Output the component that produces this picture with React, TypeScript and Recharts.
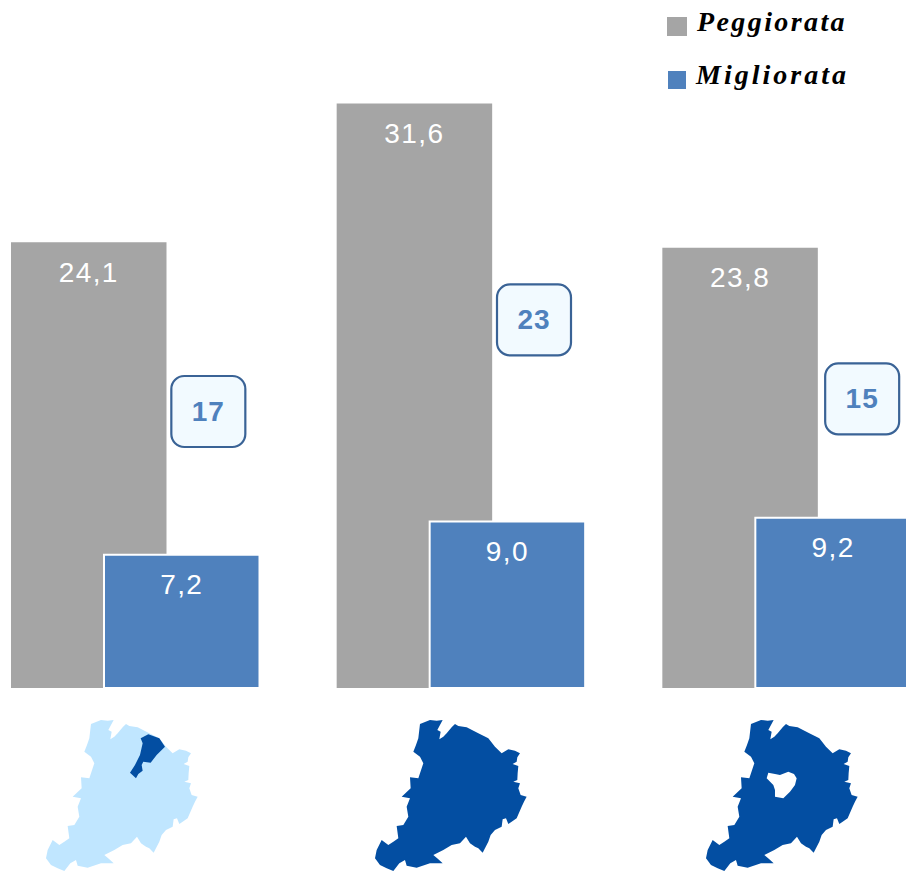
import React from "react";
import { ComposedChart, Bar, Line, XAxis, YAxis, LabelList, Legend } from "recharts";

const categories = ["A", "B", "C"];
const peggiorata = [24.1, 31.6, 23.8];
const migliorata = [7.2, 9.0, 9.2];
const diffLabels = [17, 23, 15];
const diffHeights = [14.95, 19.9, 15.63];

const GRAY = "#a5a5a5";
const BLUE = "#4f81bd";
const NUM_FONT = "'Liberation Sans', sans-serif";
const BOX_DX = [73.5, 73.5, 76];

const data = categories.map((c, i) => ({
  c,
  peggiorata: peggiorata[i],
  migliorata: migliorata[i],
  diffY: diffHeights[i],
  diff: diffLabels[i],
}));

const OUTLINE =
  "M240 72L255 66L270 60L290 62L308 60L300 75L292 90L302 95L298 118L310 110L320 100L335 82L345 72L355 78L380 82L415 100L445 115L465 140L485 160L505 148L525 152L540 160L532 172L530 185L518 192L535 198L533 220L532 240L520 245L540 250L535 265L542 285L560 290L552 305L545 320L530 355L515 365L505 372L498 355L488 358L485 380L465 390L452 405L445 425L428 458L415 445L405 440L390 430L378 410L360 430L335 435L310 450L280 465L295 478L308 490L270 490L230 503L200 497L195 480L178 490L160 513L140 505L120 495L105 475L110 450L125 420L145 435L160 425L175 415L170 378L190 375L205 350L200 320L210 295L185 290L212 265L210 232L235 235L250 190L240 170L220 155L228 135L235 115Z";
const PATCH =
  "M445 103L478 115L495 140L470 165L452 188L430 185L425 195L428 212L415 222L408 235L390 218L405 195L420 165L428 130L422 115Z";
const HOLE =
  "M265 218L285 222L300 225L325 215L342 222L350 235L345 255L330 275L310 295L285 290L285 270L280 255L260 235Z";

const fmt = (v: number) => v.toFixed(1).replace(".", ",");

const DiffBox = (props: any) => {
  const { cx, cy, payload, index } = props;
  if (cx == null || cy == null) return null;
  const x = cx + BOX_DX[index];
  return (
    <g key={index}>
      <rect x={x - 37} y={cy - 35.5} width={74} height={71} rx={13} ry={13} fill="#f2faff" stroke="#3a6396" strokeWidth={2.2} />
      <text x={x} y={cy + 9.5} textAnchor="middle" fontFamily={NUM_FONT} fontSize={28} fontWeight={700} letterSpacing={1} fill={BLUE}>
        {payload.diff}
      </text>
    </g>
  );
};

const LEGEND_FONT = "italic 700 28px 'Liberation Serif', serif";

const LegendContent = () => (
  <div style={{ position: "relative", width: 240, height: 100 }}>
    <div style={{ position: "absolute", left: 0, top: 17, width: 20, height: 19, background: GRAY }} />
    <div style={{ position: "absolute", left: 30, top: 6, font: LEGEND_FONT, letterSpacing: 2.4, color: "#000" }}>Peggiorata</div>
    <div style={{ position: "absolute", left: 1, top: 71, width: 18, height: 18, background: BLUE }} />
    <div style={{ position: "absolute", left: 29, top: 59, font: LEGEND_FONT, letterSpacing: 3, color: "#000" }}>Migliorata</div>
  </div>
);

export default function App() {
  return (
    <div style={{ position: "absolute", left: 0, top: 0, width: 906, height: 871, overflow: "hidden", background: "#fff" }}>
      <div style={{ position: "absolute", left: -28, top: 0 }}>
        <ComposedChart
          width={977}
          height={871}
          data={data}
          margin={{ top: 0, right: 0, bottom: 83, left: 0 }}
          barSize={155.5}
          barGap={-62.5}
        >
          <XAxis dataKey="c" hide />
          <YAxis hide domain={[0, 37.2]} />
          <Legend content={<LegendContent />} wrapperStyle={{ position: "absolute", left: 695, top: 0, width: 240, height: 100 }} />
          <Bar dataKey="peggiorata" fill={GRAY} isAnimationActive={false}>
            <LabelList dataKey="peggiorata" position="insideTop" offset={19.5} fill="#fff" fontFamily={NUM_FONT} fontSize={28} letterSpacing={1.4} formatter={fmt as any} />
          </Bar>
          <Bar dataKey="migliorata" fill={BLUE} stroke="#fff" strokeWidth={2} isAnimationActive={false}>
            <LabelList dataKey="migliorata" position="insideTop" offset={19.5} fill="#fff" fontFamily={NUM_FONT} fontSize={28} letterSpacing={1.4} formatter={fmt as any} />
          </Bar>
          <Line dataKey="diffY" stroke="none" dot={DiffBox as any} activeDot={false} legendType="none" isAnimationActive={false} />
        </ComposedChart>
      </div>
      <svg width={906} height={871} style={{ position: "absolute", left: 0, top: 0, pointerEvents: "none" }}>
        <g transform="translate(11 700) scale(0.3333)">
          <path d={OUTLINE} fill="#c0e6ff" />
        </g>
        <g transform="translate(0 700) scale(0.3333)">
          <path d={PATCH} fill="#034ea2" />
        </g>
        <g transform="translate(340 700) scale(0.3333)">
          <path d={OUTLINE} fill="#034ea2" />
        </g>
        <g transform="translate(671 700) scale(0.3333)">
          <path d={OUTLINE} fill="#034ea2" />
        </g>
        <g transform="translate(680 700) scale(0.3333)">
          <path d={HOLE} fill="#fff" />
        </g>
      </svg>
    </div>
  );
}
